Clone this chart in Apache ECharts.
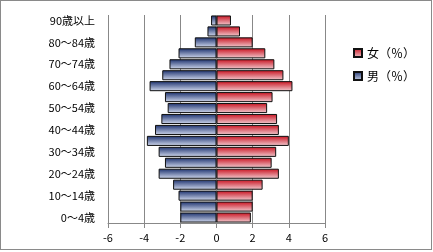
<!DOCTYPE html>
<html><head><meta charset="utf-8">
<script src="https://cdn.jsdelivr.net/npm/echarts@6/dist/echarts.min.js"></script>
<style>html,body{margin:0;padding:0;background:#fff}#c{width:433px;height:252px}
#f{position:absolute;left:0;top:0;width:430px;height:248px;border:1.5px solid #8a8a8a;pointer-events:none}</style>
</head><body><div id="c"></div><div id="f"></div>
<script>
const categories = ['0～4歳','5～9歳','10～14歳','15～19歳','20～24歳','25～29歳','30～34歳','35～39歳','40～44歳','45～49歳','50～54歳','55～59歳','60～64歳','65～69歳','70～74歳','75～79歳','80～84歳','85～89歳','90歳以上'];
const male = [-2.0,-2.0,-2.1,-2.4,-3.2,-2.85,-3.2,-3.85,-3.4,-3.05,-2.7,-2.85,-3.7,-3.0,-2.6,-2.1,-1.2,-0.5,-0.3];
const female = [1.9,2.0,2.0,2.55,3.45,3.05,3.3,4.0,3.45,3.35,2.8,3.1,4.2,3.7,3.2,2.7,2.0,1.3,0.8];
const xTicks = [-6,-4,-2,0,2,4,6];
const font = '"Noto Sans CJK JP", sans-serif';
const grad = (a,b)=>new echarts.graphic.LinearGradient(0,0,0,1,[{offset:0,color:a},{offset:1,color:b}]);
const chart = echarts.init(document.getElementById('c'));
chart.setOption({
  animation:false,
  grid:{left:108,right:108,top:15,bottom:29},
  legend:{orient:'vertical',left:348,top:42,icon:'rect',itemWidth:8,itemHeight:8,itemGap:11,
    textStyle:{fontFamily:font,fontSize:12,color:'#000'},
    data:['女（％）','男（％）']},
  xAxis:{type:'value',min:-6,max:6,interval:2,
    axisLine:{show:true,lineStyle:{color:'#888'}},
    axisTick:{show:true,length:5,lineStyle:{color:'#888'}},
    axisLabel:{color:'#000',fontFamily:font,fontSize:11,margin:9,formatter:v=>xTicks.includes(v)?String(v):''},
    splitLine:{show:true,lineStyle:{color:'#888'}}},
  yAxis:{type:'category',data:categories,
    axisLine:{show:false},axisTick:{show:false},
    axisLabel:{interval:1,color:'#000',fontFamily:font,fontSize:11,margin:13}},
  series:[
    {name:'女（％）',type:'bar',data:female,barGap:'-100%',barCategoryGap:'8%',
     itemStyle:{color:grad('#c8101e','#f2cdd2'),borderColor:'#111',borderWidth:1}},
    {name:'男（％）',type:'bar',data:male,barCategoryGap:'8%',
     itemStyle:{color:grad('#1a2f6c','#d3dbef'),borderColor:'#111',borderWidth:1}}
  ]
});
</script></body></html>
